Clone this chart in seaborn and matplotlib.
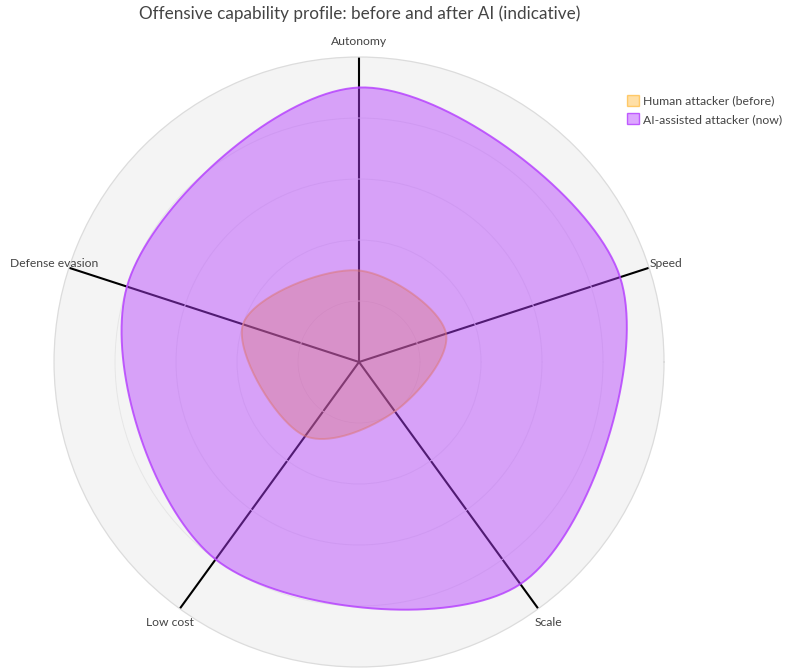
import numpy as np
import matplotlib
matplotlib.use("Agg")
import matplotlib.pyplot as plt
import seaborn as sns
from matplotlib.patches import Patch

# chart data
categories = ["Autonomy", "Speed", "Scale", "Low cost", "Defense evasion"]
human_before = [3, 3, 2, 3, 4]
ai_assisted_now = [9, 9, 9, 8, 8]
series_names = ["Human attacker (before)", "AI-assisted attacker (now)"]
title = "Offensive capability profile: before and after AI (indicative)"

# axis directions (clockwise from the top, like the original)
angles_deg = [90 - 72 * i for i in range(len(categories))]
r_max = 10

human_color = (1.0, 0.647, 0.0)
ai_color = (0.706, 0.235, 1.0)


def smooth_closed(values, angles, steps=40):
    # closed catmull-rom style spline (same idea as plotly's line shape "spline")
    th = np.deg2rad(angles)
    v = np.asarray(values, dtype=float)
    pts = np.column_stack([v * np.cos(th), v * np.sin(th)])
    n = len(pts)
    tangents = []
    for i in range(n):
        prev, cur, nxt = pts[i - 1], pts[i], pts[(i + 1) % n]
        d1 = prev - cur
        d2 = nxt - cur
        d1a = np.hypot(*d1) ** 0.5
        d2a = np.hypot(*d2) ** 0.5
        num = d2a * d2a * d1 - d1a * d1a * d2
        den1 = 3 * d2a * (d1a + d2a)
        den2 = 3 * d1a * (d1a + d2a)
        tangents.append((cur + num / den1, cur - num / den2))
    t = np.linspace(0, 1, steps)[:, None]
    out = []
    for i in range(n):
        p0, p3 = pts[i], pts[(i + 1) % n]
        c1, c2 = tangents[i][1], tangents[(i + 1) % n][0]
        seg = (1 - t) ** 3 * p0 + 3 * (1 - t) ** 2 * t * c1 + 3 * (1 - t) * t ** 2 * c2 + t ** 3 * p3
        out.append(seg[:-1] if i < n - 1 else seg)
    xy = np.vstack(out)
    th_out = np.mod(np.arctan2(xy[:, 1], xy[:, 0]), 2 * np.pi)
    return th_out, np.hypot(xy[:, 0], xy[:, 1])


sns.set_theme(style="white")
plt.rcParams["font.family"] = ["Lato", "DejaVu Sans"]

fig = plt.figure(figsize=(7.98, 6.70), dpi=100)
ax = fig.add_axes([0.0677, 0.0045, 0.7644, 0.9104], projection="polar")
ax.set_facecolor("#F4F4F4")
ax.spines["polar"].set_color("#DCDCDC")
ax.spines["polar"].set_linewidth(0.9)
ax.set_axisbelow(True)

# second trace is drawn on top of the first one (fill + outline)
for k, (vals, col, fa, la) in enumerate([(human_before, human_color, 0.35, 0.5),
                                         (ai_assisted_now, ai_color, 0.45, 0.8)]):
    th, rr = smooth_closed(vals, angles_deg)
    ax.fill(th, rr, color=col, alpha=fa, lw=0, zorder=2 + 2 * k)
    sns.lineplot(x=th, y=rr, sort=False, estimator=None, ax=ax,
                 color=col, alpha=la, lw=1.4, zorder=3 + 2 * k, legend=False)

ax.set_thetalim(0, 2 * np.pi)
ax.set_ylim(0, r_max)
ax.set_yticks([2, 4, 6, 8])
ax.set_yticklabels([])
ax.set_xticks(np.mod(np.deg2rad(angles_deg), 2 * np.pi))
ax.set_xticklabels([])
ax.set_xlabel("")
ax.set_ylabel("")
ax.xaxis.grid(True, color="black", lw=1.5)
ax.yaxis.grid(True, color="#E6E6E6", lw=0.7)

# category labels at the ends of the axis lines
label_offsets = [(0, 11.5, "center"), (0.7, 2.9, "left"), (-2.9, -10, "left"),
                 (10, -10, "right"), (21, 2.9, "right")]
for name, ang, (dx, dy, ha) in zip(categories, angles_deg, label_offsets):
    ax.annotate(name, xy=(np.deg2rad(ang), r_max), xycoords="data",
                xytext=(dx, dy), textcoords="offset points",
                ha=ha, va="center", fontsize=8.7, color="#444444",
                annotation_clip=False)

fig.text(359.5 / 798, 1 - 14 / 670, title, ha="center", va="center",
         fontsize=12.3, color="#444444")

handles = [Patch(facecolor=(*human_color, 0.35), edgecolor=(*human_color, 0.5), lw=1),
           Patch(facecolor=(*ai_color, 0.45), edgecolor=(*ai_color, 0.8), lw=1)]
fig.legend(handles, series_names, loc="upper left",
           bbox_to_anchor=(622 / 798, 1 - 90 / 670), frameon=False,
           fontsize=8.8, handlelength=1.0, handleheight=1.0,
           handletextpad=0.35, labelspacing=0.55, borderaxespad=0,
           labelcolor="#444444")

fig.savefig("out.png", dpi=100)
